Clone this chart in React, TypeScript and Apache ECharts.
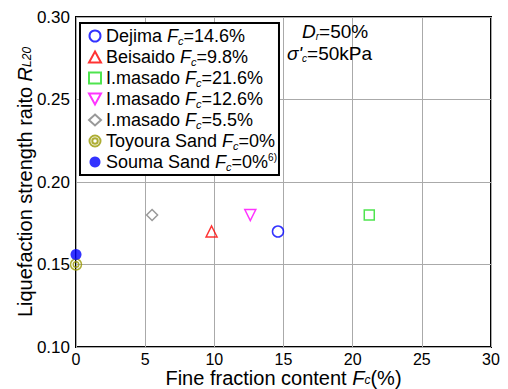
import React, { useEffect, useRef } from "react";
import * as echarts from "echarts";

const seriesNames = [
  "Dejima",
  "Beisaido",
  "I.masado 21.6",
  "I.masado 12.6",
  "I.masado 5.5",
  "Toyoura",
  "Souma",
];
const legendLabels = [
  "Dejima {i|F}{s|c}=14.6%",
  "Beisaido {i|F}{s|c}=9.8%",
  "I.masado {i|F}{s|c}=21.6%",
  "I.masado {i|F}{s|c}=12.6%",
  "I.masado {i|F}{s|c}=5.5%",
  "Toyoura Sand {i|F}{s|c}=0%",
  "Souma Sand {i|F}{s|c}=0%{sup|6)}",
];
const fcValues = [14.6, 9.8, 21.2, 12.6, 5.5, 0, 0];
const rValues = [0.17, 0.17, 0.18, 0.18, 0.18, 0.15, 0.156];

const symbols = [
  "circle",
  "triangle",
  "rect",
  "path://M0,0 L10,0 L5,9 Z",
  "diamond",
  "path://M10,0 A10,10 0 1,1 10,20 A10,10 0 1,1 10,0 Z M10,5 A5,5 0 1,1 10,15 A5,5 0 1,1 10,5 Z",
  "circle",
];
const colors = ["#0000ff", "#ff0000", "#22dd22", "#ff00ff", "#808080", "#999900", "#0000ff"];
const filled = [false, false, false, false, false, false, true];
const sizes = [11, 11, 10, 11, 11, 11, 11];

export default function App() {
  const ref = useRef<HTMLDivElement>(null);
  useEffect(() => {
    if (!ref.current) return;
    const chart = echarts.init(ref.current, undefined, { renderer: "svg" });
    const font = "'Liberation Sans', Arial, sans-serif";
    const series = seriesNames.map((name, i) => ({
      name,
      type: "scatter",
      symbol: symbols[i],
      symbolSize: sizes[i],
      clip: false,
      itemStyle: filled[i]
        ? { color: colors[i] }
        : { color: "rgba(255,255,255,0)", borderColor: colors[i], borderWidth: 1.5 },
      data: [[fcValues[i], rValues[i]]],
      z: 5,
    }));
    const nameRich = {
      i: { fontStyle: "italic", fontSize: 20, fontFamily: font, lineHeight: 16 },
      s: { fontStyle: "italic", fontSize: 12, fontFamily: font, lineHeight: 10, verticalAlign: "bottom", padding: [5, 0, 0, 0] },
    };
    chart.setOption({
      animation: false,
      textStyle: { fontFamily: font },
      grid: {
        left: 76,
        top: 17,
        right: 17,
        bottom: 42,
        containLabel: false,
        outerBoundsMode: "none",
        show: true,
        borderColor: "#000",
        borderWidth: 2,
        backgroundColor: "#fff",
      },
      xAxis: {
        type: "value",
        min: 0,
        max: 30,
        interval: 5,
        axisLine: { show: false },
        axisTick: { show: false },
        splitLine: { lineStyle: { color: "#aaa", width: 1 } },
        axisLabel: { color: "#000", fontSize: 16, lineHeight: 14, margin: 5, fontFamily: font },
        name: "Fine fraction content {i|F}{s|c}(%)",
        nameLocation: "middle",
        nameGap: 23,
        nameMoveOverlap: false,
        nameTextStyle: {
          color: "#000",
          fontSize: 20,
          lineHeight: 16,
          fontFamily: font,
          rich: nameRich,
        },
      },
      yAxis: {
        type: "value",
        min: 0.1,
        max: 0.3,
        interval: 0.05,
        axisLine: { show: false },
        axisTick: { show: false },
        splitLine: { lineStyle: { color: "#aaa", width: 1 } },
        axisLabel: {
          color: "#000",
          fontSize: 17,
          margin: 6,
          fontFamily: font,
          formatter: (v: number) => v.toFixed(2),
        },
        name: "Liquefaction strength raito {i|R}{s|L20}",
        nameLocation: "middle",
        nameRotate: 90,
        nameGap: 43,
        nameMoveOverlap: false,
        nameTextStyle: {
          color: "#000",
          fontSize: 20,
          lineHeight: 16,
          fontFamily: font,
          rich: nameRich,
        },
      },
      legend: {
        orient: "vertical",
        left: 80,
        top: 23,
        padding: [3, 2, 3, 8],
        itemGap: 1,
        itemWidth: 12,
        itemHeight: 11,
        borderColor: "#000",
        borderWidth: 2,
        backgroundColor: "#fff",
        data: seriesNames,
        formatter: (name: string) => legendLabels[seriesNames.indexOf(name)],
        textStyle: {
          color: "#000",
          fontSize: 18,
          fontFamily: font,
          lineHeight: 20,
          rich: {
            i: { fontStyle: "italic", fontSize: 18, fontFamily: font, lineHeight: 20 },
            s: { fontStyle: "italic", fontSize: 11, fontFamily: font, verticalAlign: "bottom", lineHeight: 20, padding: [6, 0, 0, 0] },
            sup: { fontSize: 10, fontFamily: font, verticalAlign: "top", lineHeight: 20, padding: [0, 0, 7, 0] },
          },
        },
        z: 10,
      },
      graphic: [
        {
          type: "text",
          left: 302,
          top: 22,
          z: 20,
          style: {
            text: "{i|D}{s|r}=50%",
            fill: "#000",
            font: `19px ${font}`,
            rich: {
              i: { fontStyle: "italic", fontSize: 19, fontFamily: font },
              s: { fontStyle: "italic", fontSize: 10, fontFamily: font, verticalAlign: "bottom", padding: [6, 0, 0, 0] },
            },
          },
        },
        {
          type: "text",
          left: 287,
          top: 44,
          z: 20,
          style: {
            text: "{i|σ'}{s|c}=50kPa",
            fill: "#000",
            font: `19px ${font}`,
            rich: {
              i: { fontStyle: "italic", fontSize: 19, fontFamily: font },
              s: { fontStyle: "italic", fontSize: 10, fontFamily: font, verticalAlign: "bottom", padding: [6, 0, 0, 0] },
            },
          },
        },
      ],
      series,
    });
    return () => chart.dispose();
  }, []);
  return <div ref={ref} style={{ width: 508, height: 389, position: "absolute", left: 0, top: 0 }} />;
}
